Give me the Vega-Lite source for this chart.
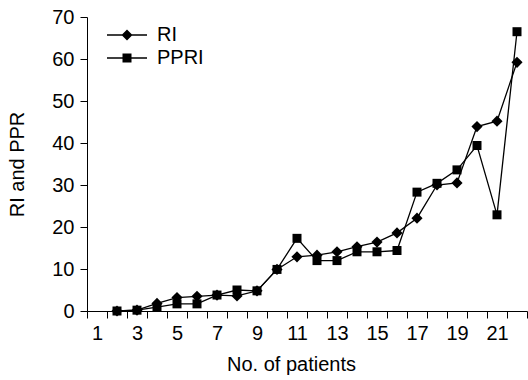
{
  "$schema": "https://vega.github.io/schema/vega-lite/v6.json",
  "width": 440,
  "height": 294,
  "autosize": {"type": "none"},
  "padding": {"left": 87, "top": 17, "right": 1, "bottom": 69},
  "background": "white",
  "config": {
    "font": "Liberation Sans",
    "view": {"stroke": null},
    "axis": {
      "labelFont": "Liberation Sans",
      "titleFont": "Liberation Sans",
      "labelFontSize": 20,
      "titleFontSize": 20,
      "titleFontWeight": "normal",
      "labelColor": "black",
      "titleColor": "black",
      "domainColor": "black",
      "tickColor": "black",
      "domainWidth": 1,
      "tickWidth": 1,
      "tickSize": 7,
      "grid": false
    },
    "legend": {
      "labelFont": "Liberation Sans",
      "labelFontSize": 20,
      "labelColor": "black"
    }
  },
  "data": {
    "values": [
      {"x": 2, "series": "RI", "value": 0},
      {"x": 3, "series": "RI", "value": 0.2},
      {"x": 4, "series": "RI", "value": 1.8},
      {"x": 5, "series": "RI", "value": 3.2},
      {"x": 6, "series": "RI", "value": 3.5},
      {"x": 7, "series": "RI", "value": 3.8},
      {"x": 8, "series": "RI", "value": 3.6},
      {"x": 9, "series": "RI", "value": 4.8},
      {"x": 10, "series": "RI", "value": 9.9},
      {"x": 11, "series": "RI", "value": 12.9},
      {"x": 12, "series": "RI", "value": 13.3},
      {"x": 13, "series": "RI", "value": 14.1},
      {"x": 14, "series": "RI", "value": 15.3},
      {"x": 15, "series": "RI", "value": 16.4},
      {"x": 16, "series": "RI", "value": 18.6},
      {"x": 17, "series": "RI", "value": 22.1},
      {"x": 18, "series": "RI", "value": 30.0},
      {"x": 19, "series": "RI", "value": 30.5},
      {"x": 20, "series": "RI", "value": 43.9},
      {"x": 21, "series": "RI", "value": 45.2},
      {"x": 22, "series": "RI", "value": 59.2},
      {"x": 2, "series": "PPRI", "value": 0},
      {"x": 3, "series": "PPRI", "value": 0.2},
      {"x": 4, "series": "PPRI", "value": 0.9},
      {"x": 5, "series": "PPRI", "value": 1.7},
      {"x": 6, "series": "PPRI", "value": 1.7},
      {"x": 7, "series": "PPRI", "value": 3.8},
      {"x": 8, "series": "PPRI", "value": 5.0},
      {"x": 9, "series": "PPRI", "value": 4.8},
      {"x": 10, "series": "PPRI", "value": 9.9},
      {"x": 11, "series": "PPRI", "value": 17.3},
      {"x": 12, "series": "PPRI", "value": 12.0},
      {"x": 13, "series": "PPRI", "value": 12.0},
      {"x": 14, "series": "PPRI", "value": 14.1},
      {"x": 15, "series": "PPRI", "value": 14.1},
      {"x": 16, "series": "PPRI", "value": 14.4},
      {"x": 17, "series": "PPRI", "value": 28.3},
      {"x": 18, "series": "PPRI", "value": 30.4},
      {"x": 19, "series": "PPRI", "value": 33.6},
      {"x": 20, "series": "PPRI", "value": 39.4},
      {"x": 21, "series": "PPRI", "value": 22.9},
      {"x": 22, "series": "PPRI", "value": 66.5}
    ]
  },
  "encoding": {
    "x": {
      "field": "x",
      "type": "quantitative",
      "scale": {"domain": [0.5, 22.5], "nice": false, "zero": false},
      "axis": {
        "title": "No. of patients",
        "values": [0.5, 1.5, 2.5, 3.5, 4.5, 5.5, 6.5, 7.5, 8.5, 9.5, 10.5, 11.5, 12.5, 13.5, 14.5, 15.5, 16.5, 17.5, 18.5, 19.5, 20.5, 21.5, 22.5],
        "labelExpr": "((datum.value - 0.5) % 2 == 0 && datum.value < 22) ? format(datum.value + 0.5, 'd') : ''",
        "labelOffset": 10,
        "labelOverlap": false,
        "labelFlush": false,
        "labelPadding": 5,
        "titlePadding": 11,
        "titleX": 204,
        "titleAlign": "center"
      }
    },
    "y": {
      "field": "value",
      "type": "quantitative",
      "scale": {"domain": [0, 70], "nice": false},
      "axis": {
        "title": "RI and PPR",
        "values": [0, 10, 20, 30, 40, 50, 60, 70],
        "labelPadding": 6,
        "titlePadding": 24
      }
    }
  },
  "layer": [
    {
      "mark": {"type": "line", "color": "black", "strokeWidth": 1.3},
      "encoding": {"detail": {"field": "series"}}
    },
    {
      "transform": [{"filter": "datum.series == 'RI'"}],
      "mark": {"type": "point", "shape": "diamond", "size": 125, "filled": true, "color": "black", "opacity": 1}
    },
    {
      "transform": [{"filter": "datum.series == 'PPRI'"}],
      "mark": {"type": "point", "shape": "square", "size": 81, "filled": true, "color": "black", "opacity": 1}
    },
    {
      "mark": {"type": "point", "filled": true, "color": "black", "opacity": 0},
      "encoding": {
        "shape": {
          "field": "series",
          "type": "nominal",
          "scale": {
            "domain": ["RI", "PPRI"],
            "range": ["M-4,-0.13L4,-0.13L4,0.13L-4,0.13Z M-1.1,0L0,-1.1L1.1,0L0,1.1Z", "M-4,-0.13L4,-0.13L4,0.13L-4,0.13Z M-0.9,-0.9L0.9,-0.9L0.9,0.9L-0.9,0.9Z"]
          },
          "legend": {
            "title": null,
            "orient": "none",
            "legendX": 30,
            "legendY": 8,
            "padding": 0,
            "rowPadding": 3,
            "symbolSize": 100,
            "labelOffset": 20,
            "symbolOpacity": 1,
            "symbolFillColor": "black"
          }
        }
      }
    }
  ]
}
